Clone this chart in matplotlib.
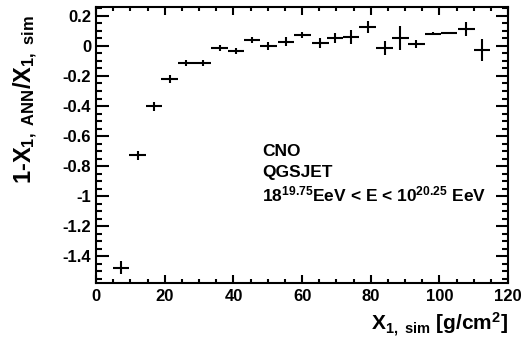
import numpy as np
import matplotlib
matplotlib.use("Agg")
import matplotlib.pyplot as plt
from matplotlib.ticker import MultipleLocator

# ---------------------------- Data ---------------------------- #
xSim = [7.3, 12.1, 16.8, 21.4, 26.3, 31.1, 36.0, 40.8, 45.4, 50.2, 55.3, 60.1,
        65.3, 69.5, 74.3, 79.1, 84.0, 88.6, 93.3, 98.1, 102.8, 107.8, 112.4]
relDiff = [-1.477, -0.729, -0.403, -0.221, -0.115, -0.111, -0.011, -0.031, 0.040,
           0.0, 0.029, 0.073, 0.018, 0.051, 0.062, 0.128, -0.011, 0.055, 0.013,
           0.080, 0.084, 0.111, -0.027]
relErr = [0.044, 0.027, 0.027, 0.025, 0.02, 0.02, 0.02, 0.02, 0.02, 0.025, 0.031,
          0.02, 0.033, 0.033, 0.047, 0.04, 0.047, 0.08, 0.027, 0.01, 0.003, 0.047,
          0.073]
binHalfWidth = 2.4

infoLines = ["CNO", "QGSJET",
             r"18$^{\mathregular{19.75}}$EeV < E < 10$^{\mathregular{20.25}}$ EeV"]

# ---------------------------- Style ---------------------------- #
plt.rcParams['font.family'] = ['Liberation Sans']
plt.rcParams['font.weight'] = 'bold'
plt.rcParams['mathtext.fontset'] = 'custom'
plt.rcParams['mathtext.rm'] = 'Liberation Sans:bold'
plt.rcParams['mathtext.it'] = 'Liberation Sans:bold'
plt.rcParams['mathtext.bf'] = 'Liberation Sans:bold'

fig = plt.figure(figsize=(5.31, 3.43), dpi=100)
ax = fig.add_axes([0.181, 0.174, 0.776, 0.806])

ax.errorbar(xSim, relDiff, xerr=binHalfWidth, yerr=relErr, fmt='none',
            ecolor='black', elinewidth=1.5, capsize=0)

ax.set_xlim(0, 120)
ax.set_ylim(-1.58, 0.26)

# ROOT-like ticks
ax.xaxis.set_major_locator(MultipleLocator(20))
ax.xaxis.set_minor_locator(MultipleLocator(5))
ax.yaxis.set_major_locator(MultipleLocator(0.2))
ax.yaxis.set_minor_locator(MultipleLocator(0.05))
ax.tick_params(axis='both', which='both', direction='in', top=True, right=True,
               width=1.5, labelsize=12)
ax.tick_params(axis='x', which='major', length=6)
ax.tick_params(axis='x', which='minor', length=3)
ax.tick_params(axis='y', which='major', length=9)
ax.tick_params(axis='y', which='minor', length=4.5)
ax.tick_params(axis='x', pad=4)
ax.set_yticks(np.arange(-1.4, 0.21, 0.2))
ax.set_yticklabels(["-1.4", "-1.2", "-1", "-0.8", "-0.6", "-0.4", "-0.2", "0", "0.2"])
for spine in ax.spines.values():
    spine.set_linewidth(1.5)

# Axis labels
ax.set_xlabel(r"X$_{\mathregular{1,\ sim}}$ [g/cm$^{\mathregular{2}}$]", fontsize=15,
              fontweight='bold', ha='right')
ax.xaxis.set_label_coords(1.0, -0.1)
ax.set_ylabel(r"1-X$_{\mathregular{1,\ ANN}}$/X$_{\mathregular{1,\ sim}}$", fontsize=17,
              fontweight='bold', ha='right')
ax.yaxis.set_label_coords(-0.135, 0.97)

# Info text
for lineNum, line in enumerate(infoLines):
    ax.text(48.3, -0.70 - 0.144 * lineNum, line, fontsize=12.5, fontweight='bold',
            va='center', ha='left')

fig.savefig("out.png", dpi=100)
